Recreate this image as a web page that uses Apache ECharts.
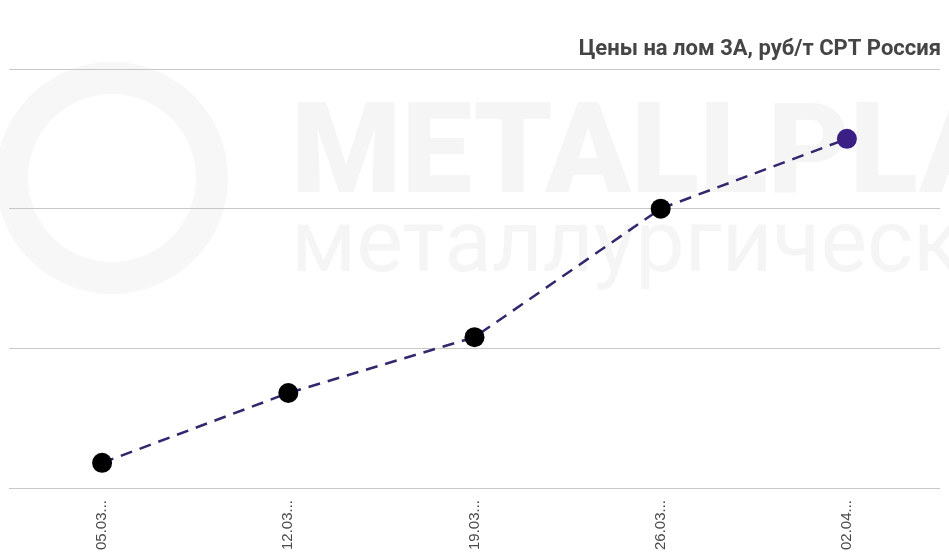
<!DOCTYPE html>
<html>
<head>
<meta charset="utf-8">
<script src="https://cdn.jsdelivr.net/npm/echarts@6/dist/echarts.min.js"></script>
<style>
html,body{margin:0;padding:0;background:#fff;}
#chart{width:949px;height:558px;}
</style>
</head>
<body>
<div id="chart"></div>
<script>
const titleText = 'Цены на лом 3А, руб/т CPT Россия';
const categories = ['05.03.2021', '12.03.2021', '19.03.2021', '26.03.2021', '02.04.2021'];
const prices = [26180, 26680, 27080, 28000, 28500];
const yMin = 26000, yMax = 29000, yStep = 1000;

const chart = echarts.init(document.getElementById('chart'));
const lineColor = '#35276e';
const seriesData = prices.map((v, i) => i === prices.length - 1
  ? { value: v, itemStyle: { color: '#3a1f85' } }
  : { value: v, itemStyle: { color: '#000000' } });

chart.setOption({
  animation: false,
  backgroundColor: '#ffffff',
  title: {
    text: titleText,
    right: 3,
    top: 33,
    textStyle: { fontFamily: 'Roboto', fontWeight: 'bold', fontSize: 22, color: '#454545' }
  },
  graphic: [
    { type: 'circle', z: -10, silent: true, shape: { cx: 112, cy: 178, r: 100 },
      style: { fill: 'none', stroke: '#f7f7f7', lineWidth: 32 } },
    { type: 'text', z: -10, silent: true, left: 291, top: 97,
      style: { text: 'METALLPLANT', fontFamily: 'Roboto', fontWeight: 900, fontSize: 126, fill: '#f5f5f5' } },
    { type: 'text', z: -10, silent: true, left: 291, top: 205,
      style: { text: 'металлургический', fontFamily: 'Roboto', fontWeight: 'normal', fontSize: 88, fill: '#f5f5f5' } }
  ],
  grid: { left: 9, right: 9, top: 69, bottom: 70, containLabel: false },
  xAxis: {
    type: 'category',
    data: categories,
    boundaryGap: true,
    axisLine: { show: false },
    axisTick: { show: false },
    axisLabel: {
      rotate: 90, margin: 12, color: '#4a4a4a', fontFamily: 'Liberation Sans', fontSize: 15,
      width: 52, overflow: 'truncate', ellipsis: '...', interval: 0
    }
  },
  yAxis: {
    type: 'value', min: yMin, max: yMax, interval: yStep,
    axisLabel: { show: false },
    axisLine: { show: false },
    axisTick: { show: false },
    splitLine: { show: true, lineStyle: { color: '#c8c8c8', width: 1 } }
  },
  series: [{
    type: 'line',
    data: seriesData,
    symbol: 'circle',
    symbolSize: 20,
    lineStyle: { color: lineColor, width: 2.5, type: [12, 8] },
    itemStyle: { color: '#000000' }
  }]
});
</script>
</body>
</html>
